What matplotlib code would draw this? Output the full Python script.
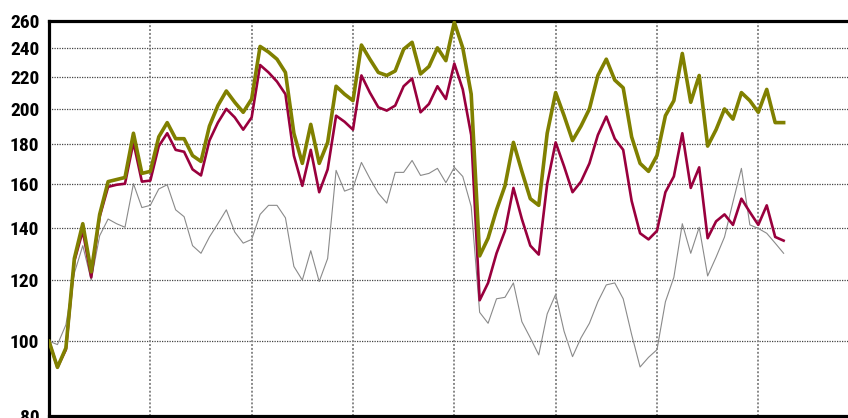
import numpy as np
import matplotlib
matplotlib.use("Agg")
import matplotlib.pyplot as plt
from matplotlib.ticker import FixedLocator, FixedFormatter, NullLocator

# monthly index values (start = 100)
olive_vals = [100, 92.5, 98, 128, 142, 123, 146, 161, 162, 163,
              186, 165, 166, 184, 192, 183, 183, 174, 171, 190,
              202, 211, 204, 198, 206, 241, 237, 232, 223, 186,
              170, 191, 170, 181, 214, 209, 205, 242, 232, 223,
              221, 224, 239, 244, 222, 227, 240, 231, 259, 240,
              209, 129, 136, 148, 159, 181, 166, 153, 150, 186,
              210, 196, 182, 190, 200, 221, 232, 218, 213, 184,
              170, 166, 174, 196, 205, 236, 204, 221, 179, 188,
              200, 194, 210, 205, 198, 212, 192, 192]

crimson_vals = [100, 92.5, 97.5, 127, 139, 121, 145, 158.5, 159.5, 160,
                181, 161, 161.5, 179, 186, 177, 176, 167, 164, 182,
                192, 200, 195, 188, 195, 228, 223, 217, 209, 174,
                159, 177, 156, 167, 196, 192.5, 188, 221, 210, 201,
                199, 202, 214, 219, 198, 203, 214, 206, 229, 212,
                185, 113, 119, 130, 139, 158, 144, 133, 129.5, 160,
                181, 168.5, 156, 161, 170, 185, 195.5, 183, 177, 152,
                138, 135.5, 139, 156, 163.5, 186, 158, 168, 136, 143,
                146, 141.5, 153, 147, 141.5, 150, 136.5, 135]

gray_vals = [100, 99, 105, 122.5, 133, 120, 137, 144, 142, 140.5,
             160, 149, 150, 157.5, 159.5, 148, 145, 133, 130, 136.5,
             142, 148, 138.5, 134, 135.5, 146, 150, 150, 144.5, 125,
             120, 131, 119.5, 128, 166.5, 156.5, 158, 170.5, 162.5, 155.5,
             151, 165.5, 165.5, 171.5, 164, 165, 167.5, 160.5, 168, 163.5,
             149.5, 109, 105.5, 113.5, 114, 119, 106, 101, 96, 108.5,
             115, 103, 95.5, 101, 105.5, 112.5, 118.3, 119, 113.5, 102,
             92.6, 95.3, 97.5, 112.5, 121, 142, 130, 140.5, 121.5, 128.5,
             136.5, 151.5, 167.5, 141.5, 140, 138, 134, 130]

y_ticks = [80, 100, 120, 140, 160, 180, 200, 220, 240, 260]
year_lines = [12, 24, 36, 48, 60, 72, 84]

months = np.arange(len(olive_vals))

W, H = 848, 418
fig = plt.figure(figsize=(W / 100, H / 100), dpi=100)
# axes runs past the right edge of the picture (8 years wide)
x0, x1 = 49, 49 + 96 * 8.444
ax = fig.add_axes([x0 / W, 2 / H, (x1 - x0) / W, 395 / H])

ax.plot(months, gray_vals, color="#8a8a8a", lw=0.8, zorder=3)
ax.plot(months, crimson_vals, color="#99003d", lw=1.9, zorder=4)
ax.plot(months, olive_vals, color="#808000", lw=2.6, zorder=5)

ax.set_yscale("log")
ax.set_ylim(80, 260)
ax.set_xlim(0, 96)

ax.yaxis.set_major_locator(FixedLocator(y_ticks))
ax.yaxis.set_major_formatter(FixedFormatter([str(t) for t in y_ticks]))
ax.yaxis.set_minor_locator(NullLocator())
ax.xaxis.set_major_locator(FixedLocator(year_lines))
ax.xaxis.set_minor_locator(NullLocator())
ax.set_xticklabels([])

for t in y_ticks[1:-1]:
    ax.axhline(t, color="#444444", lw=0.9, ls=(0, (1, 1)), zorder=1)
for m in year_lines:
    ax.axvline(m, color="#888888", lw=1.4, ls=(0, (1, 1)), zorder=1)

ax.tick_params(axis="both", length=0)
ax.tick_params(axis="y", pad=7)
for lab in ax.get_yticklabels():
    lab.set_fontfamily(["Roboto Condensed", "Liberation Sans Narrow", "DejaVu Sans"])
    lab.set_fontstretch("condensed")
    lab.set_fontweight("bold")
    lab.set_fontsize(14)

for side in ["left", "top", "bottom"]:
    ax.spines[side].set_linewidth(2.3)
    ax.spines[side].set_color("black")
ax.spines["right"].set_visible(False)

fig.savefig("out.png", dpi=100)
